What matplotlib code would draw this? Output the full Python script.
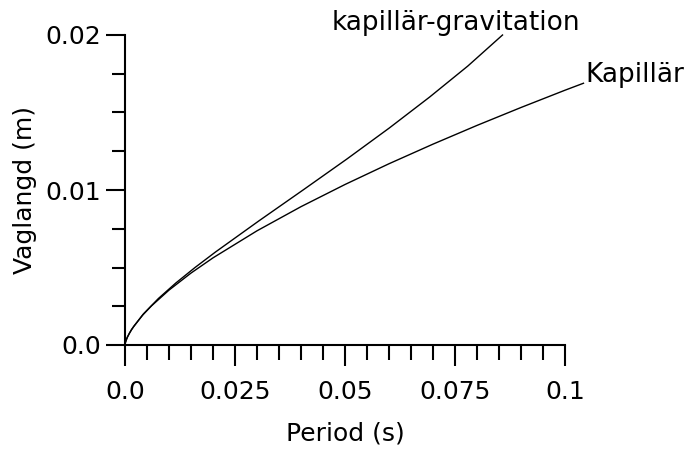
import matplotlib
matplotlib.use("Agg")
import matplotlib.pyplot as plt
from matplotlib.ticker import MultipleLocator

# Capillary waves: period (s) and wavelength (m)
kap_period = [0.0, 0.0001, 0.0002, 0.0005, 0.001, 0.002, 0.004, 0.006, 0.01,
              0.015, 0.02, 0.03, 0.04, 0.05, 0.06, 0.07, 0.08, 0.09, 0.1, 0.1042]
kap_wavelength = [0.0, 0.000164, 0.000259, 0.000480, 0.000763, 0.001211,
                  0.001923, 0.002519, 0.003541, 0.004641, 0.005622, 0.007367,
                  0.008925, 0.010355, 0.011694, 0.012959, 0.014167, 0.015323,
                  0.016438, 0.016888]

# Capillary-gravity waves: period (s) and wavelength (m)
kg_period = [0.0, 0.0000468, 0.0001324, 0.000524, 0.001481, 0.004167, 0.007592,
             0.011555, 0.015916, 0.020568, 0.030393, 0.040469, 0.050435,
             0.060069, 0.069248, 0.077923, 0.0858]
kg_wavelength = [0.0, 0.0001, 0.0002, 0.0005, 0.001, 0.002, 0.003, 0.004,
                 0.005, 0.006, 0.008, 0.010, 0.012, 0.014, 0.016, 0.018, 0.020]

x_ticks = [0.0, 0.025, 0.05, 0.075, 0.1]
x_tick_labels = ["0.0", "0.025", "0.05", "0.075", "0.1"]
y_ticks = [0.0, 0.01, 0.02]
y_tick_labels = ["0.0", "0.01", "0.02"]

plt.rcParams["font.family"] = ["DejaVu Sans"]
FS = 18
LABEL_FS = 19

fig = plt.figure(figsize=(6.98, 4.53), dpi=100)
ax = fig.add_axes([125 / 698, (453 - 345) / 453, 440 / 698, 310 / 453])

ax.plot(kap_period, kap_wavelength, color="black", lw=1.0, clip_on=False)
ax.plot(kg_period, kg_wavelength, color="black", lw=1.0, clip_on=False)

ax.annotate("Kapillär", xy=(kap_period[-1], kap_wavelength[-1]),
            xytext=(2, 1), textcoords="offset pixels", ha="left",
            va="baseline", fontsize=LABEL_FS, annotation_clip=False)
ax.annotate("kapillär-gravitation", xy=(kg_period[-1], kg_wavelength[-1]),
            xytext=(-171, 5), textcoords="offset pixels", ha="left",
            va="baseline", fontsize=LABEL_FS, annotation_clip=False)

ax.set_xlim(0, 0.1)
ax.set_ylim(0, 0.02)
ax.spines["top"].set_visible(False)
ax.spines["right"].set_visible(False)
for s in ("left", "bottom"):
    ax.spines[s].set_linewidth(1.5)

ax.set_xticks(x_ticks)
ax.set_xticklabels(x_tick_labels)
ax.set_yticks(y_ticks)
ax.set_yticklabels(y_tick_labels)
ax.xaxis.set_minor_locator(MultipleLocator(0.005))
ax.yaxis.set_minor_locator(MultipleLocator(0.0025))

ax.tick_params(axis="x", which="major", direction="out", length=15, width=1.5,
               pad=10, labelsize=FS)
ax.tick_params(axis="x", which="minor", direction="out", length=10.5, width=1.5)
ax.tick_params(axis="y", which="major", direction="out", length=13.5, width=1.5,
               pad=4, labelsize=FS)
ax.tick_params(axis="y", which="minor", direction="out", length=9.5, width=1.5)

ax.set_xlabel("Period (s)", fontsize=FS, labelpad=13)
ax.set_ylabel("Vaglangd (m)", fontsize=FS, labelpad=6)

fig.savefig("out.png", dpi=100)
